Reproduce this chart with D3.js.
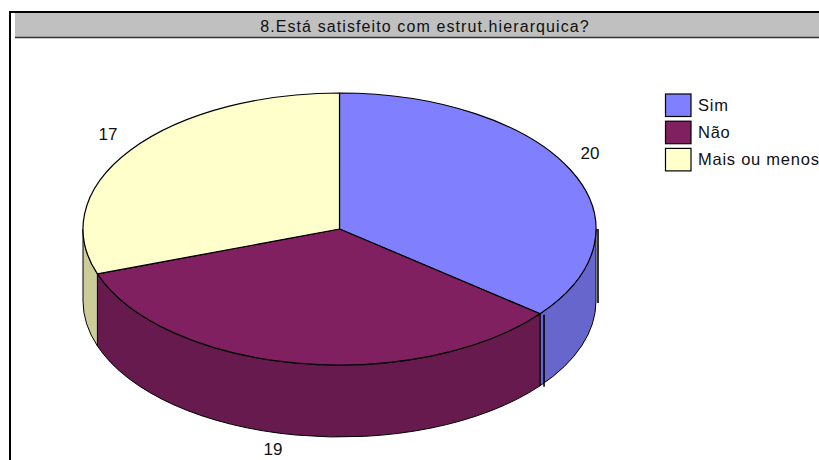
<!DOCTYPE html>
<html>
<head>
<meta charset="utf-8">
<script src="https://d3js.org/d3.v7.min.js"></script>
<style>
  html, body { margin: 0; padding: 0; background: #fff; overflow: hidden; }
  text { font-family: "Liberation Sans", Arial, sans-serif; fill: #111; }
</style>
</head>
<body>
<div id="graph"></div>
<script>
var title = "8.Está satisfeito com estrut.hierarquica?";
var categories = ["Sim", "Não", "Mais ou menos"];
var values = [20, 19, 17];
var topColors = ["#8080ff", "#802060", "#ffffcc"];
var sideColors = ["#6666cc", "#661a4d", "#cccc99"];

var width = 819, height = 460;
var cx = 339.5, cy = 229, rx = 256.5, ry = 136, depth = 72;

var svg = d3.select("#graph").append("svg")
    .attr("width", width)
    .attr("height", height)
    .style("display", "block");

// frame
svg.append("path")
    .attr("d", "M10," + height + "V12H" + width)
    .attr("fill", "none")
    .attr("stroke", "#000")
    .attr("stroke-width", 2);

// title bar
svg.append("rect")
    .attr("x", 15).attr("y", 13)
    .attr("width", width - 15).attr("height", 24)
    .attr("fill", "#c0c0c0");
svg.append("line")
    .attr("x1", 15).attr("x2", width)
    .attr("y1", 37.5).attr("y2", 37.5)
    .attr("stroke", "#333")
    .attr("stroke-width", 1.3);
svg.append("text")
    .attr("x", 425).attr("y", 32)
    .attr("text-anchor", "middle")
    .attr("font-size", 16)
    .attr("letter-spacing", 1.1)
    .text(title);

// angles, clockwise from 12 o'clock
var pie = d3.pie().sort(null);
var arcs = pie(values);

var colorTop = d3.scaleOrdinal().domain(categories).range(topColors);
var colorSide = d3.scaleOrdinal().domain(categories).range(sideColors);

var xScale = d3.scaleLinear().domain([-1, 1]).range([cx - rx, cx + rx]);
var yScale = d3.scaleLinear().domain([-1, 1]).range([cy - ry, cy + ry]);

function px(a) { return xScale(Math.sin(a)); }
function py(a, dy) { return yScale(-Math.cos(a)) + (dy || 0); }

// side wall is only the front half of the rim
var frontStart = Math.PI / 2, frontEnd = 3 * Math.PI / 2;

function sidePath(a0, a1) {
    return "M" + px(a0) + "," + py(a0)
        + "A" + rx + "," + ry + " 0 0 1 " + px(a1) + "," + py(a1)
        + "V" + py(a1, depth)
        + "A" + rx + "," + ry + " 0 0 0 " + px(a0) + "," + py(a0, depth)
        + "Z";
}

function topPath(a0, a1) {
    var large = a1 - a0 > Math.PI ? 1 : 0;
    return "M" + cx + "," + cy
        + "L" + px(a0) + "," + py(a0)
        + "A" + rx + "," + ry + " 0 " + large + " 1 " + px(a1) + "," + py(a1)
        + "Z";
}

svg.selectAll("path.side")
    .data(arcs)
    .enter().append("path")
    .attr("class", "side")
    .attr("d", function(d) {
        return sidePath(Math.max(d.startAngle, frontStart), Math.min(d.endAngle, frontEnd));
    })
    .attr("fill", function(d, i) { return colorSide(categories[i]); })
    .attr("stroke", "#000")
    .attr("stroke-width", 1);

svg.selectAll("path.top")
    .data(arcs)
    .enter().append("path")
    .attr("class", "top")
    .attr("d", function(d) { return topPath(d.startAngle, d.endAngle); })
    .attr("fill", function(d, i) { return colorTop(categories[i]); })
    .attr("stroke", "#000")
    .attr("stroke-width", 1.2)
    .attr("stroke-linejoin", "round");

// the two stray dark edges next to the blue wall
svg.append("line")
    .attr("x1", px(frontStart) + 2).attr("x2", px(frontStart) + 2)
    .attr("y1", py(frontStart)).attr("y2", py(frontStart, depth + 2))
    .attr("stroke", "#000").attr("stroke-width", 1.6);
svg.append("line")
    .attr("x1", px(arcs[0].endAngle) + 4).attr("x2", px(arcs[0].endAngle) + 4)
    .attr("y1", py(arcs[0].endAngle, 1)).attr("y2", py(arcs[0].endAngle, depth + 1))
    .attr("stroke", "#000").attr("stroke-width", 1.6);

// value labels
var labelX = [590, 273, 108];
var labelY = [159, 455, 140];
svg.selectAll("text.value")
    .data(values)
    .enter().append("text")
    .attr("class", "value")
    .attr("x", function(d, i) { return labelX[i]; })
    .attr("y", function(d, i) { return labelY[i]; })
    .attr("text-anchor", "middle")
    .attr("font-size", 17)
    .text(function(d) { return d; });

// legend
var legend = svg.selectAll("g.legend")
    .data(categories)
    .enter().append("g")
    .attr("class", "legend")
    .attr("transform", function(d, i) { return "translate(665.5," + (94 + i * 27.2) + ")"; });
legend.append("rect")
    .attr("width", 25.5).attr("height", 22.5)
    .attr("fill", function(d) { return colorTop(d); })
    .attr("stroke", "#000")
    .attr("stroke-width", 1.2);
legend.append("text")
    .attr("x", 32.5).attr("y", 17)
    .attr("font-size", 16.5)
    .attr("letter-spacing", 0.75)
    .text(function(d) { return d; });
</script>
</body>
</html>
